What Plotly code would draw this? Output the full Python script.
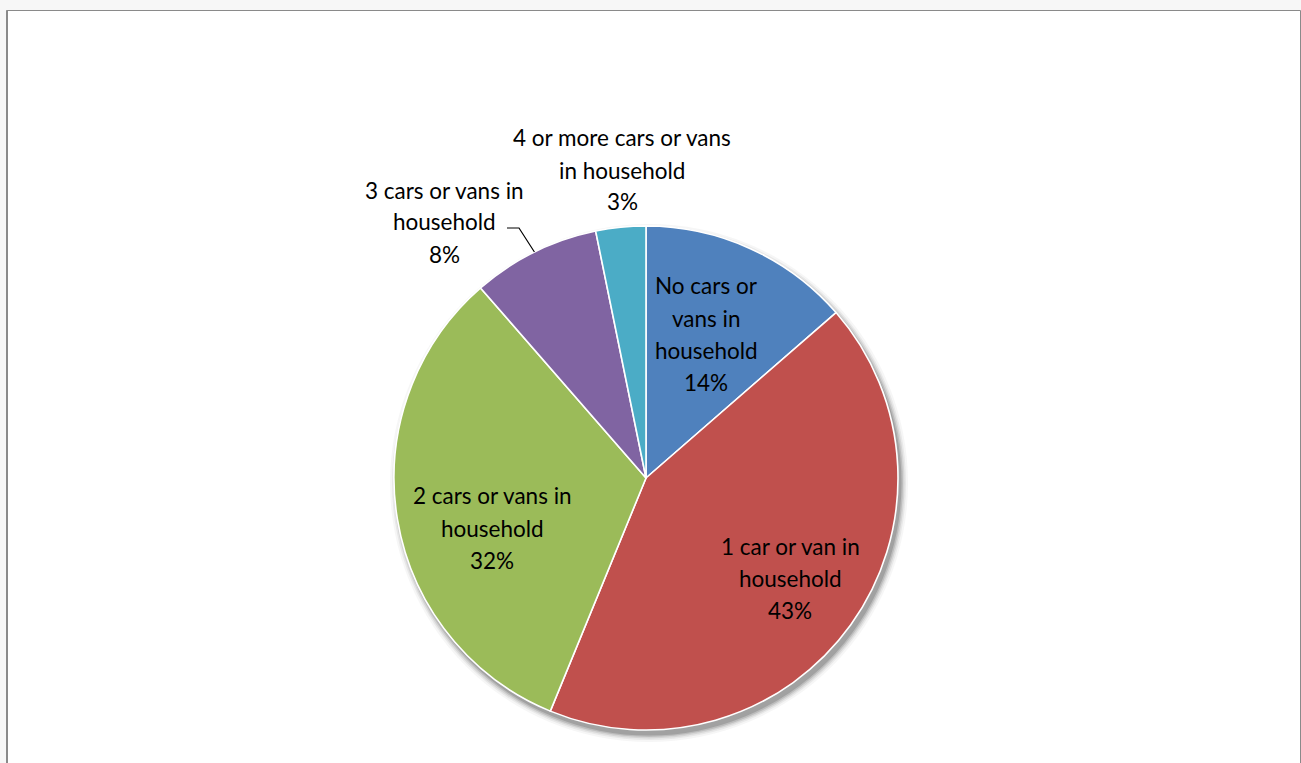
import math
import plotly.graph_objects as go

# Households by number of cars or vans
categories = [
    "No cars or<br>vans in<br>household",
    "1 car or van in<br>household",
    "2 cars or vans in<br>household",
    "3 cars or vans in<br>household",
    "4 or more cars or vans<br>in household",
]
shares = [13.6, 42.6, 32.4, 8.2, 3.2]
colors = ["#4F81BD", "#C0504D", "#9BBB59", "#8064A2", "#4BACC6"]

W, H = 1301, 763
CX, CY, R = 646, 478, 252          # pie centre and radius in pixels
FONT = "Lato"
FSIZE = 22.5
LINE_STEP = 32

def px_x(x):
    return x / W

def px_y(y):
    return 1 - y / H

fig = go.Figure()
fig.add_trace(go.Pie(
    labels=categories,
    values=shares,
    sort=False,
    direction="clockwise",
    rotation=0,
    textinfo="none",
    marker=dict(colors=colors, line=dict(color="white", width=1.6)),
    domain=dict(x=[px_x(CX - R), px_x(CX + R)],
                y=[px_y(CY + R), px_y(CY - R)]),
    showlegend=False,
    hoverinfo="label+percent",
))

shapes = []
# chart frame
shapes.append(dict(type="rect", xref="paper", yref="paper",
                   x0=px_x(6.5), x1=px_x(1300.5), y0=px_y(790), y1=px_y(10.5),
                   fillcolor="white", line=dict(color="#8a8a8a", width=1),
                   layer="below"))
shapes.append(dict(type="line", xref="paper", yref="paper",
                   x0=px_x(7.2), x1=px_x(7.2), y0=px_y(790), y1=px_y(10.5),
                   line=dict(color="#8a8a8a", width=1.6), layer="below"))

# soft drop shadow under the pie
SX, SY = 3, 5
for k, op in [(7, 0.05), (5, 0.08), (3.5, 0.12), (2, 0.18), (0.5, 0.25)]:
    rr = R + k
    shapes.append(dict(type="circle", xref="paper", yref="paper",
                       x0=px_x(CX + SX - rr), x1=px_x(CX + SX + rr),
                       y0=px_y(CY + SY + rr), y1=px_y(CY + SY - rr),
                       fillcolor=f"rgba(80,80,80,{op})", line=dict(width=0),
                       layer="below"))

# slice mid-angles (clockwise from 12 o'clock)
total = sum(shares)
mids = []
acc = 0.0
for v in shares:
    mids.append((acc + v / 2) / total * 360)
    acc += v

# leader line for the "3 cars" slice
a = math.radians(mids[3])
rim_x, rim_y = CX + R * math.sin(a), CY - R * math.cos(a)
shapes.append(dict(type="path", xref="paper", yref="paper",
                   path=(f"M {px_x(rim_x)},{px_y(rim_y)} "
                         f"L {px_x(519)},{px_y(228)} L {px_x(507)},{px_y(228)}"),
                   line=dict(color="black", width=1.2)))

# label block centres in pixels
label_pos = [(706, 334), (790, 578), (492, 528), (444, 222), (622, 170)]

annotations = []
for cat, v, (lx, ly) in zip(categories, shares, label_pos):
    lines = cat.split("<br>") + [f"{round(v / total * 100)}%"]
    n = len(lines)
    for i, t in enumerate(lines):
        y = ly + (i - (n - 1) / 2) * LINE_STEP
        annotations.append(dict(x=px_x(lx), y=px_y(y), xref="paper", yref="paper",
                                text=t, showarrow=False, xanchor="center",
                                yanchor="middle",
                                font=dict(family=FONT, size=FSIZE, color="#000000")))

fig.update_layout(
    width=W, height=H,
    margin=dict(l=0, r=0, t=0, b=0),
    paper_bgcolor="#f7f7f7",
    plot_bgcolor="#f7f7f7",
    shapes=shapes,
    annotations=annotations,
)

fig.write_html("out.html")
